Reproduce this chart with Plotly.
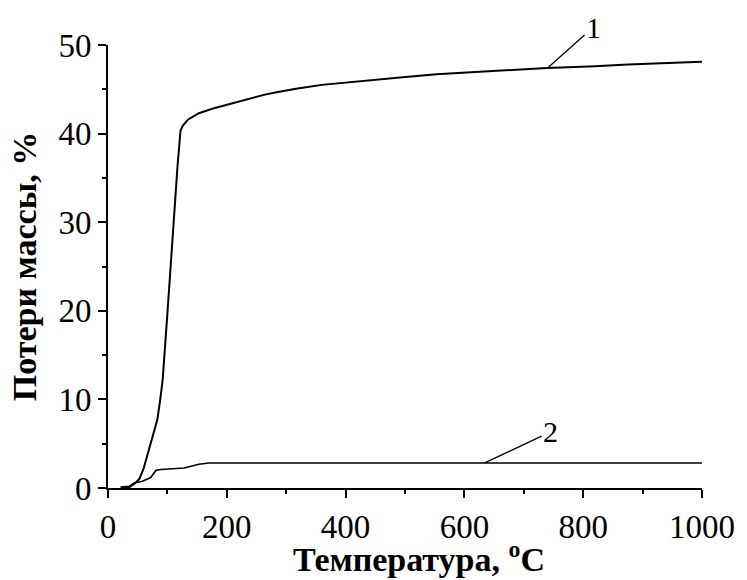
import plotly.graph_objects as go

# Curve 1: mass loss (%) vs temperature (°C)
t1 = [22, 30, 36, 45, 53, 60, 67, 75, 83, 88, 92, 100, 108, 117, 122, 126, 135, 153, 180, 208,
      240, 264, 286, 319, 360, 419, 487, 553, 653, 686, 739, 820, 875, 1000]
m1 = [0.0, 0.02, 0.1, 0.5, 1.06, 2.2, 3.9, 5.8, 7.7, 10.0, 12.2, 19.7, 28.0, 36.3, 40.3, 40.9, 41.6, 42.3, 42.9, 43.4,
      43.9, 44.4, 44.7, 45.1, 45.5, 45.9, 46.3, 46.7, 47.06, 47.25, 47.4, 47.6, 47.8, 48.1]

# Curve 2
t2 = [21, 36, 44, 58, 72, 81, 89, 128, 153, 170, 300, 600, 1000]
m2 = [0.1, 0.2, 0.57, 0.76, 1.18, 2.0, 2.08, 2.26, 2.68, 2.83, 2.83, 2.83, 2.83]

curve_labels = ["1", "2"]
label_at_t = [740, 634]
label_at_m = [47.4, 2.83]

x_title = "<b>Температура, <sup>o</sup>C</b>"
y_title = "Потери массы, %"

FONT = "Liberation Serif"

fig = go.Figure()
fig.add_trace(go.Scatter(x=t1, y=m1, mode="lines", line=dict(color="black", width=2), showlegend=False))
fig.add_trace(go.Scatter(x=t2, y=m2, mode="lines", line=dict(color="black", width=1.6), showlegend=False))

offsets = [(46, -41), (66, -31)]
for lab, xt, ym, (ax, ay) in zip(curve_labels, label_at_t, label_at_m, offsets):
    fig.add_annotation(x=xt, y=ym, text=lab, showarrow=True, arrowhead=0, arrowwidth=1.3,
                       arrowcolor="black", ax=ax, ay=ay,
                       font=dict(family=FONT, size=30, color="black"))

# x-axis title (placed slightly right of centre, as in the reference)
fig.add_annotation(x=0.5, y=0, xref="paper", yref="paper", xanchor="center", yanchor="top",
                   xshift=14, yshift=-46, text=x_title, showarrow=False,
                   font=dict(family=FONT, size=34, color="black"))

axis_common = dict(
    showline=True, linecolor="black", linewidth=2, mirror=False,
    showgrid=False, zeroline=False,
    ticks="outside", ticklen=8, tickwidth=1.5, tickcolor="black",
    tickfont=dict(family=FONT, size=33, color="black"),
)

fig.update_xaxes(range=[0, 1000], dtick=200,
                 minor=dict(ticks="outside", ticklen=4, tickwidth=1.5, tickcolor="black", dtick=100),
                 **axis_common)
fig.update_yaxes(range=[0, 50], dtick=10,
                 minor=dict(ticks="outside", ticklen=4, tickwidth=1.5, tickcolor="black", dtick=5),
                 title=dict(text=y_title, font=dict(family=FONT, size=34, color="black", weight="bold"), standoff=12),
                 **axis_common)

fig.update_layout(width=747, height=580, plot_bgcolor="white", paper_bgcolor="white",
                  margin=dict(l=108, r=39, t=45, b=92))

fig.write_html("out.html")
